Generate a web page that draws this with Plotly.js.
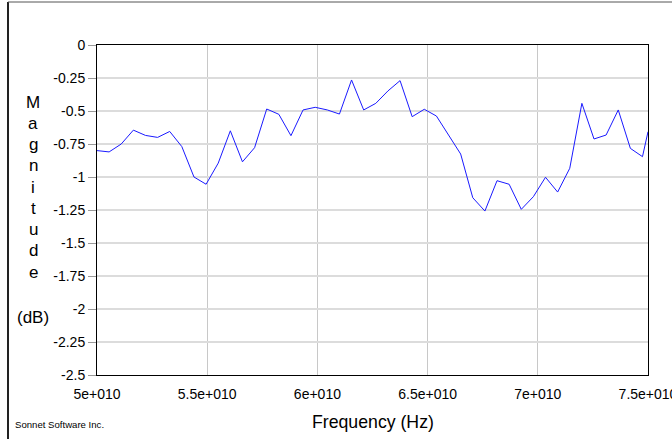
<!DOCTYPE html>
<html>
<head>
<meta charset="utf-8">
<script src="https://cdn.plot.ly/plotly-3.0.1.min.js"></script>
<style>
html,body{margin:0;padding:0;background:#fff;}
#chart{width:672px;height:439px;}
</style>
</head>
<body>
<div id="chart"></div>
<script>
// Frequency (Hz) sample points
const freqHz = [
  5.000e10, 5.055e10, 5.110e10, 5.165e10, 5.220e10, 5.275e10, 5.330e10, 5.385e10,
  5.440e10, 5.495e10, 5.550e10, 5.605e10, 5.660e10, 5.715e10, 5.770e10, 5.825e10,
  5.880e10, 5.935e10, 5.990e10, 6.045e10, 6.100e10, 6.155e10, 6.210e10, 6.265e10,
  6.320e10, 6.375e10, 6.430e10, 6.485e10, 6.540e10, 6.595e10, 6.650e10, 6.705e10,
  6.760e10, 6.815e10, 6.870e10, 6.925e10, 6.980e10, 7.035e10, 7.090e10, 7.145e10,
  7.200e10, 7.255e10, 7.310e10, 7.365e10, 7.420e10, 7.475e10, 7.500e10
];
// Magnitude (dB)
const magDB = [
  -0.80, -0.81, -0.75, -0.645, -0.685, -0.70, -0.655, -0.77,
  -1.00, -1.055, -0.895, -0.65, -0.885, -0.778, -0.485, -0.525,
  -0.687, -0.492, -0.472, -0.492, -0.523, -0.265, -0.492, -0.442,
  -0.348, -0.27, -0.543, -0.487, -0.538, -0.682, -0.826, -1.157,
  -1.258, -1.028, -1.055, -1.245, -1.149, -1.002, -1.114, -0.934,
  -0.442, -0.712, -0.682, -0.492, -0.783, -0.846, -0.657
];
const xTickVals = [5e10, 5.5e10, 6e10, 6.5e10, 7e10, 7.5e10];
const xTickText = ["5e+010", "5.5e+010", "6e+010", "6.5e+010", "7e+010", "7.5e+010"];
const yTickVals = [0, -0.25, -0.5, -0.75, -1, -1.25, -1.5, -1.75, -2, -2.25, -2.5];
const yTickText = ["0", "-0.25", "-0.5", "-0.75", "-1", "-1.25", "-1.5", "-1.75", "-2", "-2.25", "-2.5"];
const yTitleLetters = ["M", "a", "g", "n", "i", "t", "u", "d", "e"];

const font = "Arial, 'Liberation Sans', sans-serif";

const trace = {
  x: freqHz, y: magDB, type: "scatter", mode: "lines",
  line: {color: "#1a1aff", width: 1}, hoverinfo: "x+y"
};

// pixel -> paper helpers (plot area: x 97..648, y 45..375)
const L = 97, R = 648, T = 45, B = 375;
const px = v => (v - L) / (R - L);
const py = v => (B - v) / (B - T);

const annotations = yTitleLetters.map((ch, i) => ({
  text: ch, xref: "paper", yref: "paper", x: px(33), y: py(102 + i * 21.25),
  xanchor: "center", yanchor: "middle", showarrow: false,
  font: {family: font, size: 17, color: "#000"}
}));
annotations.push(
  {text: "(dB)", xref: "paper", yref: "paper", x: px(33), y: py(317),
   xanchor: "center", yanchor: "middle", showarrow: false,
   font: {family: font, size: 17, color: "#000"}},
  {text: "Frequency (Hz)", xref: "paper", yref: "paper", x: px(372.5), y: py(422),
   xanchor: "center", yanchor: "middle", showarrow: false,
   font: {family: font, size: 17.7, color: "#000"}},
  {text: "Sonnet Software Inc.", xref: "paper", yref: "paper", x: px(13), y: py(424),
   xanchor: "left", yanchor: "middle", showarrow: false,
   font: {family: font, size: 9.6, color: "#000"}}
);

const layout = {
  width: 672, height: 439,
  margin: {l: L, r: 672 - R, t: T, b: 439 - B, pad: 0},
  paper_bgcolor: "#ffffff", plot_bgcolor: "#ffffff",
  showlegend: false,
  font: {family: font, size: 14, color: "#000"},
  xaxis: {
    range: [5e10, 7.5e10], tickvals: xTickVals, ticktext: xTickText,
    showgrid: true, gridcolor: "#c8c8c8", gridwidth: 1,
    showline: true, linecolor: "#000", linewidth: 1, mirror: true,
    ticks: "", zeroline: false, ticklabeloverflow: "allow", ticklabelstandoff: 6,
    tickfont: {family: font, size: 14, color: "#000"}
  },
  yaxis: {
    range: [-2.5, 0], tickvals: yTickVals, ticktext: yTickText,
    showgrid: true, gridcolor: "#dcdcdc", gridwidth: 2,
    showline: true, linecolor: "#000", linewidth: 1, mirror: true,
    ticks: "outside", ticklen: 8, tickcolor: "#999", tickwidth: 1,
    zeroline: false, ticklabeloverflow: "allow",
    tickfont: {family: font, size: 14, color: "#000"}
  },
  annotations: annotations,
  shapes: [
    {type: "line", xref: "paper", yref: "paper", x0: px(8), x1: px(8), y0: py(2), y1: py(445),
     line: {color: "#222", width: 2}},
    {type: "line", xref: "paper", yref: "paper", x0: px(8), x1: px(680), y0: py(2), y1: py(2),
     line: {color: "#555", width: 1}}
  ]
};

Plotly.newPlot("chart", [trace], layout, {displayModeBar: false, staticPlot: true});
</script>
</body>
</html>
